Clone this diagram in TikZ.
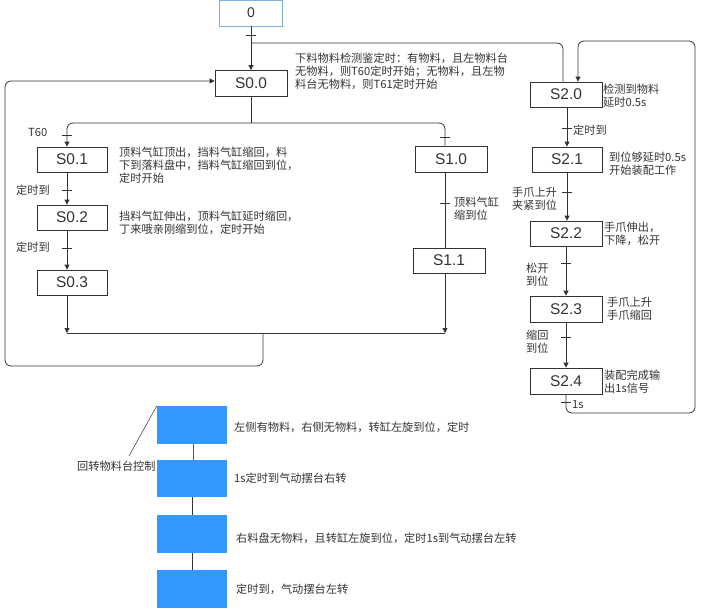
\documentclass[tikz,border=0pt]{standalone}
\usepackage{fontspec}
\setmainfont{Liberation Sans}
\newfontfamily\cjk{Noto Sans CJK SC}
\usetikzlibrary{arrows.meta}
\definecolor{linec}{HTML}{333333}
\definecolor{txtc}{HTML}{333333}
\definecolor{blueF}{HTML}{3399FF}
\definecolor{topb}{HTML}{7EB0E0}
\begin{document}
\begin{tikzpicture}[x=1pt,y=-1pt,
  stbox/.style={draw=linec, line width=0.8pt, minimum width=72pt, minimum height=25pt, inner sep=0pt, font=\fontsize{15.5}{16}\selectfont, text=txtc},
  note/.style={font=\cjk\fontsize{11.2}{13}\selectfont, align=left, inner sep=0pt, text=txtc, anchor=west},
  ln/.style={draw=linec, line width=0.8pt},
  arr/.style={ln, -{Triangle[length=5pt,width=5pt]}},
  rc/.style={rounded corners=6pt},
  bluebox/.style={fill=blueF, draw=none, minimum width=70pt, minimum height=38pt, inner sep=0pt}]
\useasboundingbox (0,0) rectangle (703,608);

% ---------- nodes ----------
\node[stbox, draw=topb, minimum width=63pt, minimum height=26pt, font=\fontsize{14}{15}\selectfont] (n0) at (251,13) {0};
\node[stbox, minimum height=26pt] (S00) at (251,83.5) {S0.0};
\node[stbox, minimum width=70pt] (S01) at (72,159.5) {S0.1};
\node[stbox, minimum width=70pt] (S02) at (72,217.5) {S0.2};
\node[stbox, minimum width=70pt] (S03) at (72,282.5) {S0.3};
\node[stbox, minimum height=26pt] (S10) at (451,159) {S1.0};
\node[stbox] (S11) at (449,260.5) {S1.1};
\node[stbox] (S20) at (566,94.5) {S2.0};
\node[stbox, minimum width=70pt] (S21) at (567,159.5) {S2.1};
\node[stbox] (S22) at (566,233.5) {S2.2};
\node[stbox, minimum height=26pt] (S23) at (566,309) {S2.3};
\node[stbox, minimum height=26pt] (S24) at (566,381) {S2.4};

% ---------- notes ----------
\node[note] (t00) at (295,71) {下料物料检测鉴定时：有物料，且左物料台\\无物料，则T60定时开始；无物料，且左物\\料台无物料，则T61定时开始};
\node[note] (t01) at (119,165) {顶料气缸顶出，挡料气缸缩回，料\\下到落料盘中，挡料气缸缩回到位，\\定时开始};
\node[note] (t02) at (119,223) {挡料气缸伸出，顶料气缸延时缩回，\\丁来哦亲刚缩到位，定时开始};
\node[note] (t20) at (603,96) {检测到物料\\延时0.5s};
\node[note] (t21) at (609,164) {到位够延时0.5s\\开始装配工作};
\node[note] (t22) at (604,234) {手爪伸出，\\下降，松开};
\node[note] (t23) at (607,308.5) {手爪上升\\手爪缩回};
\node[note] (t24) at (604,381.5) {装配完成输\\出1s信号};

\node[note] (lT60) at (28,132) {T60};
\node[note] (l1) at (16,190) {定时到};
\node[note] (l2) at (16,247) {定时到};
\node[note] (l3) at (454,209) {顶料气缸\\缩到位};
\node[note] (l4) at (573,130) {定时到};
\node[note] (l5) at (512,198.5) {手爪上升\\夹紧到位};
\node[note] (l6) at (526,275) {松开\\到位};
\node[note] (l7) at (526,341.5) {缩回\\到位};
\node[note] (l8) at (572,405) {1s};

% ---------- coordinates ----------
\coordinate (b0) at (251,43);
\coordinate (sp) at (251,123);
\coordinate (jL) at (67,333);
\coordinate (jR) at (445,333);
\coordinate (jM) at (263,333);

% ---------- connectors ----------
\draw[arr] (n0.south) -- (S00.north);
\draw[ln, rc] (b0) -| (S20.north -| 563,0);
\draw[ln] (S00.south) -- (sp);
\draw[arr, rc] (sp) -| (S01.north -| 67,0);
\draw[ln, rc] (sp) -| (S10.north -| 445,0);
\draw[arr] (S01.south -| 67,0) -- (S02.north -| 67,0);
\draw[arr] (S02.south -| 67,0) -- (S03.north -| 67,0);
\draw[arr] (S03.south -| 67,0) -- (jL);
\draw[ln] (S10.south -| 445,0) -- (S11.north -| 445,0);
\draw[arr] (S11.south -| 445,0) -- (jR);
\draw[ln] (jL) -- (jR);
\draw[arr, rc] (jM) -- (263,366) -- (5,366) -- (5,81) -- (S00.west |- 0,81);

\draw[arr] (S20.south -| 567,0) -- (S21.north -| 567,0);
\draw[arr] (S21.south -| 567,0) -- (S22.north -| 567,0);
\draw[arr] (S22.south -| 566,0) -- (S23.north -| 566,0);
\draw[arr] (S23.south -| 566,0) -- (S24.north -| 566,0);
\draw[arr, rc] (S24.south) -- (566,413) -- (695,413) -- (695,41) -- (578,41) -- (S20.north -| 578,0);

% ---------- ticks ----------
\foreach \x/\y in {251/35, 67/135, 445/137, 67/190, 67/248, 445/203, 567/128, 567/192, 566/263, 566/337, 566/402}
  \draw[ln] (\x-5,\y) -- (\x+5,\y);

% ---------- bottom part ----------
\node[bluebox] (B1) at (192,425) {};
\node[bluebox, minimum height=37pt] (B2) at (192,478.5) {};
\node[bluebox] (B3) at (192,534) {};
\node[bluebox] (B4) at (192,589) {};
\draw[ln, draw=black!65] (B1.south -| 193,0) -- (B2.north -| 193,0);
\draw[ln, draw=black!80] (B2.south -| 192,0) -- (B3.north -| 192,0);
\draw[ln, draw=black!80] (B3.south -| 192,0) -- (B4.north -| 192,0);
\node[note] (bt1) at (234,427) {左侧有物料，右侧无物料，转缸左旋到位，定时};
\node[note] (bt2) at (234,478) {1s定时到气动摆台右转};
\node[note] (bt3) at (236,538) {右料盘无物料，且转缸左旋到位，定时1s到气动摆台左转};
\node[note] (bt4) at (236,589.5) {定时到，气动摆台左转};
\node[note] (lbl) at (77,466) {回转物料台控制};
\coordinate (lp) at (129,456);
\draw[ln, draw=black!70, line width=0.6pt] (lp) -- (B1.north west);
\end{tikzpicture}
\end{document}
